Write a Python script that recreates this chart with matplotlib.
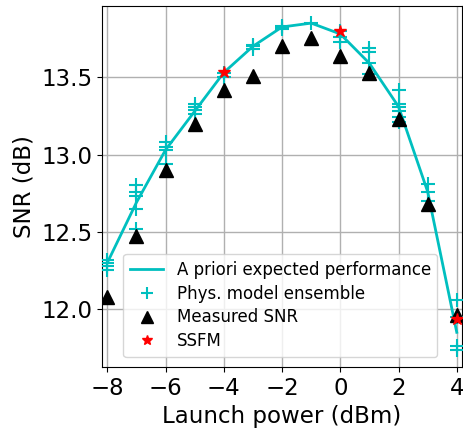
import numpy as np
import matplotlib
matplotlib.use("Agg")
import matplotlib.pyplot as plt

# launch powers (dBm)
launch_power = [-8, -7, -6, -5, -4, -3, -2, -1, 0, 1, 2, 3, 4]

# a priori expected SNR (dB)
expected_snr = [12.30, 12.69, 13.03, 13.28, 13.53, 13.70, 13.825, 13.85, 13.78, 13.59, 13.31, 12.76, 11.85]

# physical model ensemble: (launch power, SNR)
ensemble_power = [-8, -8, -8, -8,
                  -7, -7, -7, -7, -7,
                  -6, -6, -6, -6,
                  -5, -5, -5, -5,
                  -4, -4,
                  -3, -3, -3,
                  -2, -2, -2,
                  -1,
                  0, 0, 0,
                  1, 1, 1, 1,
                  2, 2, 2, 2, 2, 2,
                  3, 3, 3,
                  4, 4, 4, 4]
ensemble_snr = [12.32, 12.30, 12.28, 12.25,
                12.80, 12.76, 12.73, 12.65, 12.52,
                13.08, 13.05, 13.03, 12.94,
                13.33, 13.31, 13.29, 13.26,
                13.53, 13.50,
                13.71, 13.70, 13.68,
                13.83, 13.825, 13.81,
                13.85,
                13.80, 13.76, 13.73,
                13.69, 13.66, 13.59, 13.52,
                13.42, 13.33, 13.31, 13.28, 13.24, 13.21,
                12.81, 12.76, 12.70,
                12.06, 11.95, 11.76, 11.735]

# measured SNR (dB)
measured_snr = [12.08, 12.47, 12.90, 13.20, 13.42, 13.505, 13.705, 13.755, 13.64, 13.53, 13.23, 12.68, 11.96]

# split-step Fourier method points
ssfm_power = [-4, 0, 4]
ssfm_snr = [13.535, 13.797, 11.935]

fig = plt.figure(figsize=(4.64, 4.37), dpi=100)
ax = fig.add_axes([0.22, 0.16, 0.7757, 0.826])

ax.plot(launch_power, expected_snr, "c-", lw=2, label="A priori expected performance", zorder=3)
ax.plot(ensemble_power, ensemble_snr, "c+", ms=10, mew=1.5, ls="none", label="Phys. model ensemble", zorder=3)
ax.plot(launch_power, measured_snr, "k^", ms=10, ls="none", label="Measured SNR", zorder=4)
ax.plot(ssfm_power, ssfm_snr, "r*", ms=9, ls="none", label="SSFM", zorder=5)

ax.set_xlim(-8.18, 4.18)
ax.set_ylim(11.625, 13.96)
ax.set_xticks(np.arange(-8, 5, 2))
ax.set_yticks([12.0, 12.5, 13.0, 13.5])
ax.grid(True, color="#b0b0b0", lw=1)
ax.set_axisbelow(True)
ax.tick_params(labelsize=16.5)
ax.set_xlabel("Launch power (dBm)", fontsize=16.5)
ax.set_ylabel("SNR (dB)", fontsize=16.5)
ax.legend(loc="lower right", bbox_to_anchor=(0.955, 0.005), fontsize=12,
          labelspacing=0.35, markerscale=0.85)

fig.savefig("out.png", dpi=100)
